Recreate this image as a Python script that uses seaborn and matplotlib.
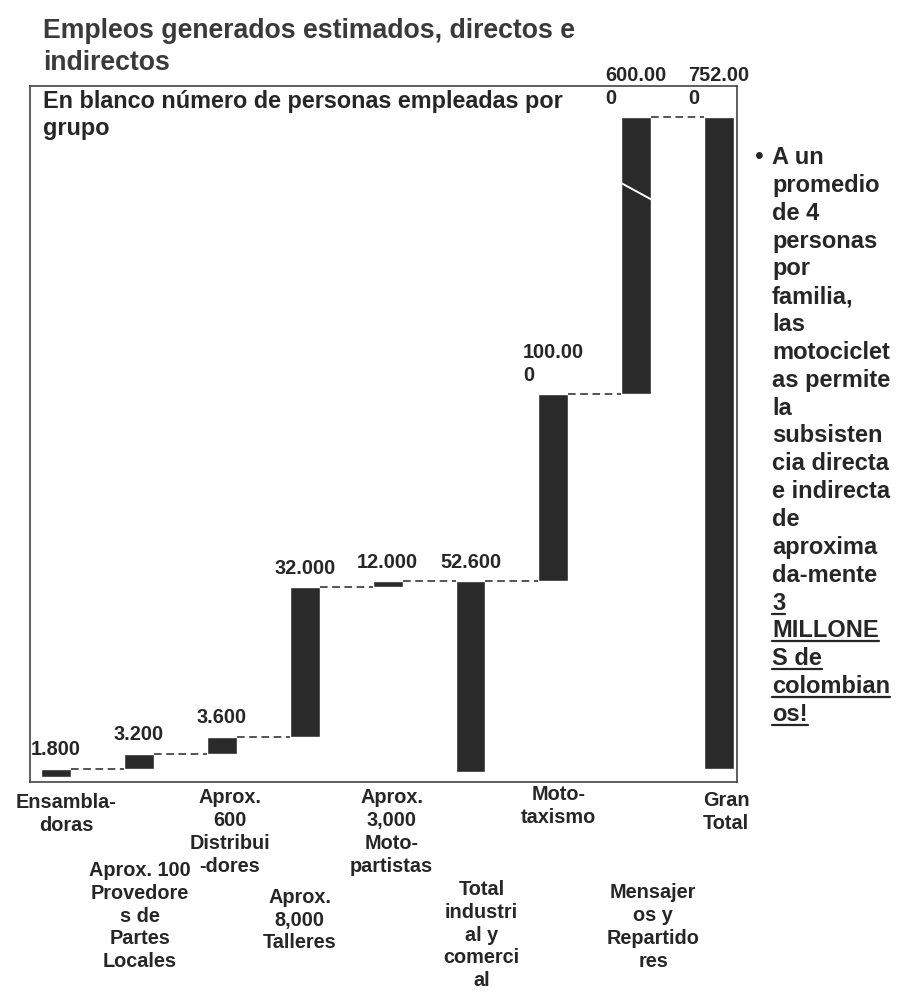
import matplotlib
matplotlib.use("Agg")
import numpy as np
import pandas as pd
import matplotlib.pyplot as plt
import matplotlib.transforms as mtransforms
import seaborn as sns
from matplotlib.lines import Line2D


# Data
categories = ["Ensambladoras", "Provedores", "Distribuidores", "Talleres",
              "Motopartistas", "Total industrial", "Mototaxismo",
              "Mensajeros", "Gran Total"]
tick_labels = ["Ensambla-\ndoras",
               "Aprox. 100\nProvedore\ns de\nPartes\nLocales",
               "Aprox.\n600\nDistribui\n-dores",
               "Aprox.\n8,000\nTalleres",
               "Aprox.\n3,000\nMoto-\npartistas",
               "Total\nindustri\nal y\ncomerci\nal",
               "Moto-\ntaxismo",
               "Mensajer\nos y\nRepartido\nres",
               "Gran\nTotal"]
value_labels = ["1.800", "3.200", "3.600", "32.000", "12.000", "52.600",
                "100.00\n0", "600.00\n0", "752.00\n0"]
is_total = [False, False, False, False, False, True, False, False, True]
# the original is not drawn to scale: bar steps as drawn, in % of the Gran Total bar
drawn_step = [1.2, 2.3, 2.6, 23.0, 0.9, 0.0, 28.7, 42.5, 0.0]
total_base = [0.0, 0.0, 0.0, 0.0, 0.0, 0.8, 0.0, 0.0, 1.2]

note_lines = ["A un", "promedio", "de 4", "personas", "por", "familia,", "las",
              "motociclet", "as permite", "la", "subsisten", "cia directa",
              "e indirecta", "de", "aproxima", "da-mente", "3", "MILLONE",
              "S de", "colombian", "os!"]
note_underlined = [False] * 16 + [True] * 5


# waterfall geometry
bottoms, heights = [], []
running = 0.0
for step, tot, base in zip(drawn_step, is_total, total_base):
    if tot:
        bottoms.append(base)
        heights.append(running - base)
    else:
        bottoms.append(running)
        heights.append(step)
        running += step
tops = [b + h for b, h in zip(bottoms, heights)]
df = pd.DataFrame({"cat": categories, "height": heights, "bottom": bottoms})

sns.set_theme(style="white")
plt.rcParams["font.family"] = ["Liberation Sans", "DejaVu Sans"]
ink = "#262626"
bar_w = 0.36

fig = plt.figure(figsize=(8.97, 9.96), dpi=100)
W, H = 897, 996
ax = fig.add_axes([30 / W, 1 - 782 / H, 707 / W, 696 / H])

sns.barplot(data=df, x="cat", y="height", order=categories,
            bottom=df["bottom"].to_numpy(), color="#2a2a2a", saturation=1,
            width=bar_w, ax=ax)

# dashed connectors between bars
for i in range(len(categories) - 1):
    ax.plot([i + bar_w / 2, i + 1 - bar_w / 2], [tops[i], tops[i]],
            color=ink, lw=1.1, ls=(0, (5, 3)))

# break mark on the Mensajeros bar
k = categories.index("Mensajeros")
ax.plot([k - bar_w / 2, k + bar_w / 2], [tops[k] - 10.1, tops[k] - 12.6],
        color="white", lw=1.4)

# value labels above bars
for i, lab in enumerate(value_labels):
    ax.annotate(lab, (i, tops[i]), xytext=(0, 7), textcoords="offset points",
                ha="center", va="bottom", multialignment="left",
                fontsize=14.3, fontweight="bold", color=ink, linespacing=1.25)

ax.set_xlim(-0.314, 8.215)
ax.set_ylim(-0.77, 106.0)
ax.set_xticks([])
ax.set_yticks([])
ax.set_xlabel("")
ax.set_ylabel("")
for s in ax.spines.values():
    s.set_visible(True)
    s.set_color("#444444")
    s.set_linewidth(1.2)

# staggered category labels (hand-placed in the original, offsets in px)
label_dx = [10, 1, 8, -5, 4, 11, 5, 17, 7]
label_y = [814, 916, 832, 920, 832, 935, 806, 927, 812]
px_per_cat = 707 / (8.215 + 0.314)
trans = mtransforms.blended_transform_factory(ax.transData, ax.transAxes)
for i, lab in enumerate(tick_labels):
    ax.text(i + label_dx[i] / px_per_cat, (782 - label_y[i]) / 696, lab,
            transform=trans, ha="center", va="center",
            multialignment="center", fontsize=14.3, fontweight="bold",
            color=ink, linespacing=1.25, clip_on=False)

# title and subtitle
fig.text(43 / W, 1 - 37.5 / H, "Empleos generados estimados, directos e",
         fontsize=19.2, fontweight="bold", color="#3a3a3a", va="baseline")
fig.text(43 / W, 1 - 69.5 / H, "indirectos",
         fontsize=19.2, fontweight="bold", color="#3a3a3a", va="baseline")
fig.text(43 / W, 1 - 108 / H, "En blanco número de personas empleadas por",
         fontsize=16.8, fontweight="bold", color=ink, va="baseline")
fig.text(43 / W, 1 - 135 / H, "grupo",
         fontsize=16.8, fontweight="bold", color=ink, va="baseline")

# side note
fig.text(759 / W, 1 - 164 / H, "•", fontsize=18, color=ink, va="baseline",
         ha="center")
note_texts = []
for j, line in enumerate(note_lines):
    t = fig.text(772 / W, 1 - (164 + j * 27.85) / H, line, fontsize=17,
                 fontweight="bold", color=ink, va="baseline", ha="left")
    note_texts.append(t)

fig.canvas.draw()
renderer = fig.canvas.get_renderer()
for t, ul in zip(note_texts, note_underlined):
    if not ul:
        continue
    bb = t.get_window_extent(renderer)
    y_base = t.get_position()[1] * H - 4
    fig.add_artist(Line2D([bb.x0 / W, bb.x1 / W], [y_base / H, y_base / H],
                          color=ink, lw=1.6, transform=fig.transFigure))

fig.savefig("out.png", dpi=100)
